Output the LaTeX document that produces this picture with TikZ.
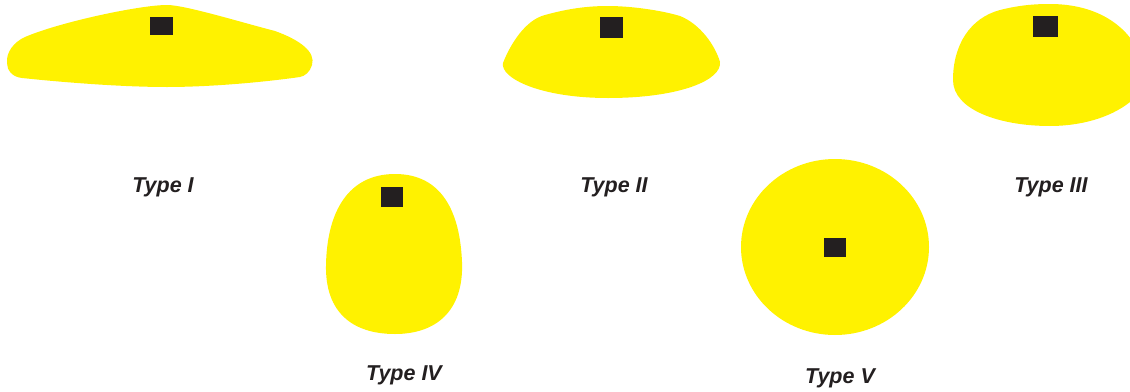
\documentclass[tikz,border=0pt]{standalone}
\usepackage{fontspec}
\setmainfont{Liberation Sans}
\definecolor{cellyellow}{HTML}{FFF200}
\definecolor{nucleus}{HTML}{231F20}
\tikzset{
  cellbody/.style={fill=cellyellow, draw=none},
  nucbox/.style={fill=nucleus, draw=none, inner sep=0pt, outer sep=0pt, rectangle},
  typelabel/.style={font=\fontsize{21.5}{25}\selectfont\bfseries\itshape, text=nucleus, anchor=base, inner sep=0pt}
}
\begin{document}
\begin{tikzpicture}[x=1pt,y=-1pt]
\useasboundingbox (0,0) rectangle (1130,391);
\begin{scope}
\clip (0,0) rectangle (1130,391);
% Type I
\fill[cellbody] (7,63) .. controls (6,52) and (14,42) .. (25,37)
  .. controls (60,22) and (140,5) .. (167,5)
  .. controls (185,5) and (240,22) .. (275,31)
  .. controls (300,40) and (316,52) .. (312,65)
  .. controls (310,72) and (305,76) .. (300,77)
  .. controls (250,84) and (200,87) .. (167,87)
  .. controls (120,87) and (60,82) .. (22,78)
  .. controls (12,77) and (7,70) .. (7,63) -- cycle;
% Type II
\fill[cellbody] (503,63) .. controls (510,45) and (525,20) .. (545,15)
  .. controls (570,8) and (590,6) .. (608,6)
  .. controls (630,6) and (660,10) .. (680,16)
  .. controls (700,24) and (715,45) .. (720,62)
  .. controls (722,80) and (680,98) .. (608,98)
  .. controls (540,98) and (500,78) .. (503,63) -- cycle;
% Type III
\fill[cellbody] (953,80) .. controls (953,45) and (970,18) .. (1000,10)
  .. controls (1020,5) and (1035,4) .. (1050,4)
  .. controls (1090,4) and (1120,20) .. (1135,45)
  .. controls (1145,65) and (1145,90) .. (1130,102)
  .. controls (1110,118) and (1080,126) .. (1050,126)
  .. controls (1000,126) and (953,110) .. (953,80) -- cycle;
% Type IV
\fill[cellbody] (395,174) .. controls (442,174) and (460,212) .. (462,262)
  .. controls (464,312) and (435,334) .. (395,334)
  .. controls (352,334) and (325,312) .. (326,265)
  .. controls (327,212) and (348,174) .. (395,174) -- cycle;
% Type V
\fill[cellbody] (835,247) ellipse [x radius=94, y radius=88];
\end{scope}
% nuclei
\node[nucbox, minimum width=23pt, minimum height=18pt] (n1) at (161.5,26) {};
\node[nucbox, minimum width=23pt, minimum height=21pt] (n2) at (611.5,27.5) {};
\node[nucbox, minimum width=25pt, minimum height=21pt] (n3) at (1045.5,26.5) {};
\node[nucbox, minimum width=22pt, minimum height=20pt] (n4) at (392,197) {};
\node[nucbox, minimum width=22pt, minimum height=19pt] (n5) at (835,247.5) {};
% labels
\node[typelabel] (l1) at (163,192) {Type I};
\node[typelabel] (l2) at (614,192) {Type II};
\node[typelabel] (l3) at (1051,192) {Type III};
\node[typelabel] (l4) at (404,380) {Type IV};
\node[typelabel] (l5) at (840,383) {Type V};
\end{tikzpicture}
\end{document}
